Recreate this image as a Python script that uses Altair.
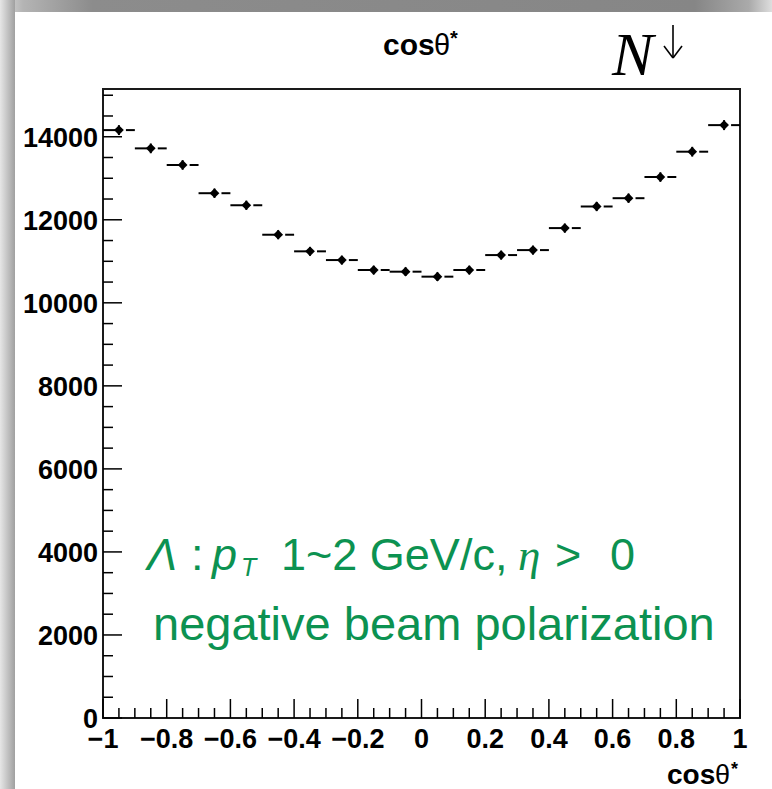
import altair as alt
import pandas as pd

# ---- data ----
bin_edges = [-1.0, -0.9, -0.8, -0.7, -0.6, -0.5, -0.4, -0.3, -0.2, -0.1, 0.0,
             0.1, 0.2, 0.3, 0.4, 0.5, 0.6, 0.7, 0.8, 0.9, 1.0]
bin_centers = [-0.95, -0.85, -0.75, -0.65, -0.55, -0.45, -0.35, -0.25, -0.15, -0.05,
               0.05, 0.15, 0.25, 0.35, 0.45, 0.55, 0.65, 0.75, 0.85, 0.95]
counts = [14160, 13720, 13320, 12640, 12350, 11640, 11240, 11030, 10790, 10750,
          10630, 10790, 11150, 11270, 11800, 12320, 12520, 13030, 13640, 14280]
errors = [119, 117, 115, 112, 111, 108, 106, 105, 104, 104,
          103, 104, 106, 106, 109, 111, 112, 114, 117, 120]

x_tick_labels = [-1.0, -0.8, -0.6, -0.4, -0.2, 0.0, 0.2, 0.4, 0.6, 0.8, 1.0]
y_tick_labels = [0, 2000, 4000, 6000, 8000, 10000, 12000, 14000]

W, H = 637, 629
PL, PT = 103, 89
GREEN = "#0c9251"
SANS = "Liberation Sans"
SERIF = "Liberation Serif"

df = pd.DataFrame({
    "lo": bin_edges[:-1], "hi": bin_edges[1:], "x": bin_centers,
    "y": counts, "elo": [c - e for c, e in zip(counts, errors)],
    "ehi": [c + e for c, e in zip(counts, errors)],
})

xs = alt.Scale(domain=[-1, 1], nice=False, zero=False)
ys = alt.Scale(domain=[0, 15150], nice=False, zero=False)

def X(f):
    return alt.X(f, scale=xs, axis=None, title=None)

def Y(f):
    return alt.Y(f, scale=ys, axis=None, title=None)

base = alt.Chart(df)

points = base.mark_point(shape="diamond", filled=True, size=95, color="black", opacity=1).encode(
    x=X("x:Q"), y=Y("y:Q"))
left_bar = base.mark_rule(color="black", strokeWidth=2).encode(x=X("lo:Q"), x2="x:Q", y=Y("y:Q"))
right_bar = base.mark_rule(color="black", strokeWidth=2, xOffset=7).encode(x=X("x:Q"), x2="hi:Q", y=Y("y:Q"))
vert_bar = base.mark_rule(color="black", strokeWidth=2).encode(x=X("x:Q"), y=Y("elo:Q"), y2="ehi:Q")

# ---- inward ticks and tick labels ----
x_major = pd.DataFrame({"t": x_tick_labels})
x_minor = pd.DataFrame({"t": [round(-1 + 0.05 * i, 2) for i in range(41) if i % 4 != 0]})
y_major = pd.DataFrame({"t": y_tick_labels})
y_minor = pd.DataFrame({"t": [500 * i for i in range(31) if i % 4 != 0]})

def xticks(d, length):
    return alt.Chart(d).mark_rule(color="black", strokeWidth=1.5).encode(
        x=X("t:Q"), y=alt.value(H), y2=alt.value(H - length))

def yticks(d, length):
    return alt.Chart(d).mark_rule(color="black", strokeWidth=1.5).encode(
        y=Y("t:Q"), x=alt.value(0), x2=alt.value(length))

LBL = 27
x_labels = alt.Chart(x_major).mark_text(
    font=SANS, fontWeight="bold", fontSize=LBL, color="black", align="center", baseline="alphabetic"
).encode(x=X("t:Q"), y=alt.value(H + 30), text=alt.Text("t:Q", format=".1~f"))

y_labels = alt.Chart(y_major).mark_text(
    font=SANS, fontWeight="bold", fontSize=LBL, color="black", align="right", baseline="alphabetic", dy=10
).encode(y=Y("t:Q"), x=alt.value(-5), text=alt.Text("t:Q", format="d"))

one = alt.Data(values=[{"a": 0}])

def txt(s, ax, ay, size, weight="normal", style="normal", font=SANS, color="black"):
    return alt.Chart(one).mark_text(align="left", baseline="alphabetic", font=font, fontSize=size,
                                    fontWeight=weight, fontStyle=style, color=color).encode(
        x=alt.value(ax - PL), y=alt.value(ay - PT), text=alt.value(s))

def seg(x1, y1, x2, y2, w=1.6):
    return alt.Chart(one).mark_rule(color="black", strokeWidth=w).encode(
        x=alt.value(x1 - PL), y=alt.value(y1 - PT), x2=alt.value(x2 - PL), y2=alt.value(y2 - PT))

# ---- decorative slide border ----
top_strip = alt.Chart(one).mark_rect(fill=alt.Gradient(
    gradient="linear", x1=0, x2=1, y1=0, y2=0,
    stops=[alt.GradientStop(offset=0, color="#dcdcdc"), alt.GradientStop(offset=0.03, color="#b4b4b4"),
           alt.GradientStop(offset=0.12, color="#8c8c8c"), alt.GradientStop(offset=0.9, color="#868686"),
           alt.GradientStop(offset=0.97, color="#aaaaaa"), alt.GradientStop(offset=1, color="#dedede")])
).encode(x=alt.value(-PL), x2=alt.value(772 - PL), y=alt.value(-PT), y2=alt.value(12 - PT))
left_strip = alt.Chart(one).mark_rect(fill=alt.Gradient(
    gradient="linear", x1=0, x2=1, y1=0, y2=0,
    stops=[alt.GradientStop(offset=0, color="#e6e6e6"), alt.GradientStop(offset=1, color="#a0a0a0")])
).encode(x=alt.value(-PL), x2=alt.value(15 - PL), y=alt.value(-PT), y2=alt.value(789 - PT))

FS1 = 45
FS2 = 47
texts = [
    # top title cosθ*
    txt("cos", 383, 55, 30, weight="bold"),
    txt("θ", 434, 55, 29),
    txt("*", 450, 45, 20, weight="bold"),
    # x title cosθ*
    txt("cos", 667, 784, 28, weight="bold"),
    txt("θ", 715, 784, 27),
    txt("*", 731, 775, 18, weight="bold"),
    # N
    txt("N", 612, 75, 62, style="italic", font=SERIF),
    # green annotation line 1
    txt("Λ", 147, 570, FS1, style="italic", color=GREEN),
    txt(":", 191, 570, FS1, color=GREEN),
    txt("p", 212, 570, FS1, style="italic", color=GREEN),
    txt("T", 241, 576, 25, style="italic", color=GREEN),
    txt("1~2 GeV/c,", 281, 570, FS1, color=GREEN),
    txt("η", 518, 570, FS1, style="italic", font=SERIF, color=GREEN),
    txt(">", 555, 570, FS1, color=GREEN),
    txt("0", 610, 570, FS1, color=GREEN),
    # line 2
    txt("negative beam polarization", 153, 640, FS2, color=GREEN),
]

# superscript down-arrow of N (drawn as thin strokes, like the LaTeX glyph)
arrow = [
    seg(673, 25, 673, 58),
    seg(664, 46, 673, 58),
    seg(682, 46, 673, 58),
]

chart = alt.layer(
    top_strip, left_strip,
    xticks(x_major, 19), xticks(x_minor, 10), yticks(y_major, 19), yticks(y_minor, 10),
    x_labels, y_labels,
    left_bar, right_bar, vert_bar, points, *texts, *arrow
).properties(
    width=W, height=H,
    padding={"left": PL, "top": PT, "right": 772 - PL - W, "bottom": 789 - PT - H},
    autosize=alt.AutoSizeParams(type="none"),
    background="white",
).configure_view(stroke="#1a1a1a", strokeWidth=2)

chart.save("out.html", embed_options={"renderer": "svg", "actions": False})
